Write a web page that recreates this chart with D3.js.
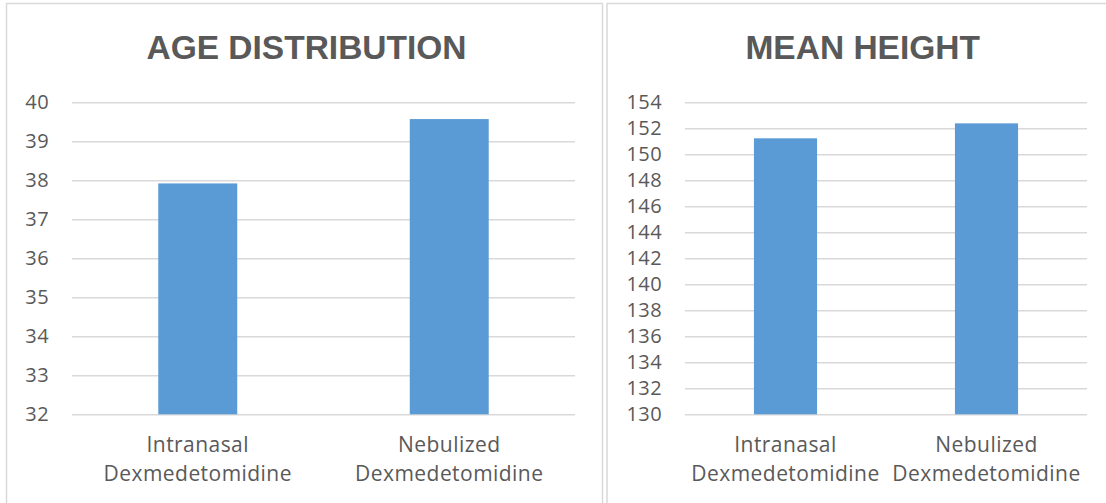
<!DOCTYPE html>
<html>
<head>
<meta charset="utf-8">
<script src="https://cdn.jsdelivr.net/npm/d3@7"></script>
<style>
  html, body { margin: 0; padding: 0; background: #fff; }
  svg { display: block; }
</style>
</head>
<body>
<svg id="chart" width="1106" height="503"></svg>
<script>
// Group labels shared by both panels (each label is split over two lines)
const groups = ["Intranasal Dexmedetomidine", "Nebulized Dexmedetomidine"];
const groupLines = [["Intranasal", "Dexmedetomidine"], ["Nebulized", "Dexmedetomidine"]];

// Mean age per group
const ageValues = [37.92, 39.57];
const ageTicks = [32, 33, 34, 35, 36, 37, 38, 39, 40];

// Mean height per group
const heightValues = [151.23, 152.38];
const heightTicks = [130, 132, 134, 136, 138, 140, 142, 144, 146, 148, 150, 152, 154];

const svg = d3.select("#chart");
const textColor = "#595959";
const gridColor = "#d9d9d9";
const barColor = "#5b9bd5";
const labelFont = "'Open Sans', 'Liberation Sans', sans-serif";
const titleFont = "'Liberation Sans', Arial, sans-serif";

// Panel frames
svg.append("rect")
  .attr("x", 6.5).attr("y", 3.5).attr("width", 596).attr("height", 520)
  .attr("fill", "none").attr("stroke", gridColor).attr("stroke-width", 1.5);
svg.append("rect")
  .attr("x", 607).attr("y", 3.5).attr("width", 520).attr("height", 520)
  .attr("fill", "none").attr("stroke", gridColor).attr("stroke-width", 1.5);

function panel(cfg) {
  const g = svg.append("g");

  const x = d3.scaleBand()
    .domain(groups)
    .range([cfg.left, cfg.right])
    .paddingInner(0.686)
    .paddingOuter(0.343);

  const y = d3.scaleLinear()
    .domain([cfg.ticks[0], cfg.ticks[cfg.ticks.length - 1]])
    .range([414.3, 102.3]);

  // Title
  g.append("text")
    .attr("x", cfg.titleX).attr("y", 59)
    .attr("text-anchor", "middle")
    .attr("font-family", titleFont)
    .attr("font-weight", "bold")
    .attr("font-size", 33.5)
    .attr("fill", textColor)
    .text(cfg.title);

  // Value axis: gridlines plus tick labels
  const yAxis = d3.axisLeft(y)
    .tickValues(cfg.ticks)
    .tickSize(-(cfg.right - cfg.left))
    .tickPadding(23)
    .tickFormat(d3.format("d"));

  const ax = g.append("g")
    .attr("transform", `translate(${cfg.left},0)`)
    .call(yAxis);
  ax.select(".domain").remove();
  ax.selectAll(".tick line")
    .attr("stroke", gridColor)
    .attr("stroke-width", 1.5);
  ax.selectAll(".tick text")
    .attr("fill", textColor)
    .attr("font-family", labelFont)
    .attr("font-size", 20)
    .attr("letter-spacing", 0.4);

  // Bars
  g.selectAll("rect.bar")
    .data(cfg.values)
    .join("rect")
    .attr("class", "bar")
    .attr("x", (d, i) => x(groups[i]))
    .attr("width", x.bandwidth())
    .attr("y", d => y(d))
    .attr("height", d => y(cfg.ticks[0]) - y(d))
    .attr("fill", barColor);

  // Category labels
  groups.forEach((grp, i) => {
    const t = g.append("text")
      .attr("text-anchor", "middle")
      .attr("font-family", labelFont)
      .attr("font-size", 21)
      .attr("letter-spacing", 0.45)
      .attr("fill", textColor);
    groupLines[i].forEach((line, j) => {
      t.append("tspan")
        .attr("x", x(grp) + x.bandwidth() / 2)
        .attr("y", 452 + j * 29)
        .text(line);
    });
  });
}

panel({
  title: "AGE DISTRIBUTION",
  titleX: 306.5,
  left: 72, right: 575,
  values: ageValues,
  ticks: ageTicks
});

panel({
  title: "MEAN HEIGHT",
  titleX: 862.7,
  left: 685, right: 1087,
  values: heightValues,
  ticks: heightTicks
});
</script>
</body>
</html>
